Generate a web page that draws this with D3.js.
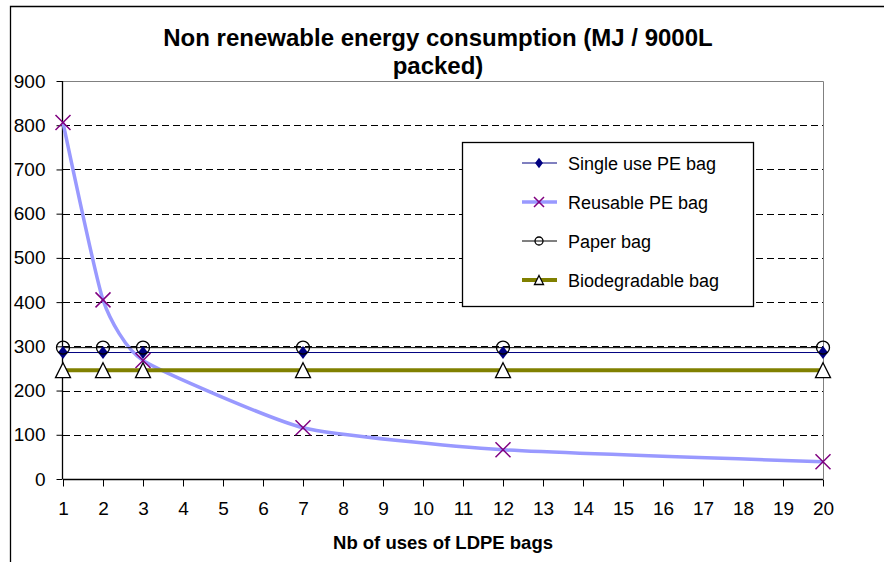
<!DOCTYPE html>
<html>
<head>
<meta charset="utf-8">
<script src="https://cdn.jsdelivr.net/npm/d3@7"></script>
<style>
  body { margin: 0; background: #fff; }
  text { font-family: "Liberation Sans", Arial, sans-serif; }
</style>
</head>
<body>
<svg></svg>
<script>
const width = 884;
const height = 562;

// number of uses of the LDPE bags (x values)
const uses = [1, 2, 3, 7, 12, 20];

// MJ / 9000L packed
const singleUse = [286, 286, 286, 286, 286, 286];
const reusable = [806, 405, 268, 116, 66, 39];
const paper = [297, 297, 297, 297, 297, 297];
const biodegradable = [246, 246, 246, 246, 246, 246];

const seriesNames = ["Single use PE bag", "Reusable PE bag", "Paper bag", "Biodegradable bag"];
const yTicks = [0, 100, 200, 300, 400, 500, 600, 700, 800, 900];
const xTicks = [1, 2, 3, 4, 5, 6, 7, 8, 9, 10, 11, 12, 13, 14, 15, 16, 17, 18, 19, 20];

const series = [
  {name: seriesNames[0], values: singleUse, line: "#000080", lw: 1, marker: "diamond", curve: d3.curveLinear},
  {name: seriesNames[1], values: reusable, line: "#9999ff", lw: 3.5, marker: "cross", curve: d3.curveCardinal.tension(0.5)},
  {name: seriesNames[2], values: paper, line: "#000000", lw: 1, marker: "circle", curve: d3.curveLinear},
  {name: seriesNames[3], values: biodegradable, line: "#808000", lw: 4, marker: "triangle", curve: d3.curveLinear}
];

const x = d3.scaleLinear().domain([1, 20]).range([63, 823]);
const y = d3.scaleLinear().domain([0, 900]).range([479, 81]);

const svg = d3.select("svg")
  .attr("width", width)
  .attr("height", height);

svg.append("rect")
  .attr("width", width).attr("height", height)
  .attr("fill", "#fff");

// outer chart border
svg.append("path")
  .attr("d", "M10.5," + height + "V6.5H" + width)
  .attr("fill", "none")
  .attr("stroke", "#000")
  .attr("stroke-width", 1.3);

// title
const title = svg.append("text")
  .attr("text-anchor", "middle")
  .attr("font-weight", "bold")
  .attr("font-size", 24)
  .attr("transform", "translate(438,0)");
title.append("tspan").attr("x", 0).attr("y", 46).text("Non renewable energy consumption (MJ / 9000L");
title.append("tspan").attr("x", 0).attr("y", 74).text("packed)");

// gridlines
svg.append("g")
  .selectAll("line")
  .data(yTicks.filter(function (d) { return d > 0 && d < 900; }))
  .enter().append("line")
    .attr("x1", x(1)).attr("x2", x(20))
    .attr("y1", function (d) { return Math.round(y(d)) + 0.5; })
    .attr("y2", function (d) { return Math.round(y(d)) + 0.5; })
    .attr("stroke", "#000")
    .attr("stroke-dasharray", "7,4");

// plot area border (top / right)
svg.append("path")
  .attr("d", "M" + x(1) + "," + (y(900) + 0.5) + "H" + (x(20) + 0.5) + "V" + y(0))
  .attr("fill", "none")
  .attr("stroke", "#808080");

// axes
const yAxis = svg.append("g")
  .attr("transform", "translate(" + (x(1) - 0.5) + ",0)")
  .call(d3.axisLeft(y).tickValues(yTicks).tickSize(6).tickPadding(11));

const xAxis = svg.append("g")
  .attr("transform", "translate(0," + (y(0) + 0.5) + ")")
  .call(d3.axisBottom(x).tickValues(xTicks).tickSize(7).tickPadding(15));

[yAxis, xAxis].forEach(function (ax) {
  ax.select(".domain").attr("stroke", "#000").attr("stroke-width", 1.3);
  ax.selectAll(".tick line").attr("stroke", "#000");
  ax.selectAll(".tick text")
    .attr("font-family", "Liberation Sans, Arial, sans-serif")
    .attr("font-size", 19)
    .attr("fill", "#000");
});
yAxis.select(".domain").attr("d", "M0," + y(900) + "V" + y(0));
xAxis.select(".domain").attr("d", "M" + x(1) + ",0H" + x(20));

svg.append("text")
  .attr("x", 443).attr("y", 549)
  .attr("text-anchor", "middle")
  .attr("font-weight", "bold")
  .attr("font-size", 18.5)
  .text("Nb of uses of LDPE bags");

// lines
series.forEach(function (s) {
  const line = d3.line()
    .curve(s.curve)
    .x(function (d, i) { return x(uses[i]); })
    .y(function (d) { return y(d); });
  svg.append("path")
    .datum(s.values)
    .attr("d", line)
    .attr("fill", "none")
    .attr("stroke", s.line)
    .attr("stroke-width", s.lw);
});

function drawMarker(g, type, size) {
  if (type === "diamond") {
    g.append("path")
      .attr("d", d3.symbol().type(d3.symbolDiamond).size(size * size * 0.5)())
      .attr("transform", "scale(1.3,1)")
      .attr("fill", "#000080");
  } else if (type === "cross") {
    const h = size / 2;
    g.append("path")
      .attr("d", "M" + -h + "," + -h + "L" + h + "," + h + "M" + -h + "," + h + "L" + h + "," + -h)
      .attr("stroke", "#800080")
      .attr("stroke-width", 1.5);
  } else if (type === "circle") {
    g.append("circle")
      .attr("r", size / 2)
      .attr("fill", "none")
      .attr("stroke", "#000")
      .attr("stroke-width", 1.3);
  } else if (type === "triangle") {
    const h = size / 2;
    g.append("path")
      .attr("d", "M0," + -h + "L" + h + "," + h + "L" + -h + "," + h + "Z")
      .attr("fill", "#fff")
      .attr("stroke", "#000")
      .attr("stroke-width", 1.3);
  }
}

const markerSize = {diamond: 10, cross: 15, circle: 13, triangle: 15};

series.forEach(function (s) {
  s.values.forEach(function (v, i) {
    const g = svg.append("g")
      .attr("transform", "translate(" + x(uses[i]) + "," + y(v) + ")");
    drawMarker(g, s.marker, markerSize[s.marker]);
  });
});

// legend
const legend = svg.append("g").attr("transform", "translate(462,142)");
legend.append("rect")
  .attr("x", 0.5).attr("y", 0.5)
  .attr("width", 291).attr("height", 164)
  .attr("fill", "#fff")
  .attr("stroke", "#000")
  .attr("stroke-width", 1.3);

const legendMarker = {diamond: 8, cross: 10, circle: 8, triangle: 9};

const item = legend.selectAll(".item")
  .data(series)
  .enter().append("g")
    .attr("class", "item")
    .attr("transform", function (d, i) { return "translate(0," + (21 + i * 39) + ")"; });

item.append("line")
  .attr("x1", 60).attr("x2", 95)
  .attr("stroke", function (d) { return d.line; })
  .attr("stroke-width", function (d) { return d.lw; });

item.each(function (d) {
  const g = d3.select(this).append("g").attr("transform", "translate(77,0)");
  drawMarker(g, d.marker, legendMarker[d.marker]);
});

item.append("text")
  .attr("x", 106).attr("y", 7)
  .attr("font-size", 18)
  .text(function (d) { return d.name; });
</script>
</body>
</html>
